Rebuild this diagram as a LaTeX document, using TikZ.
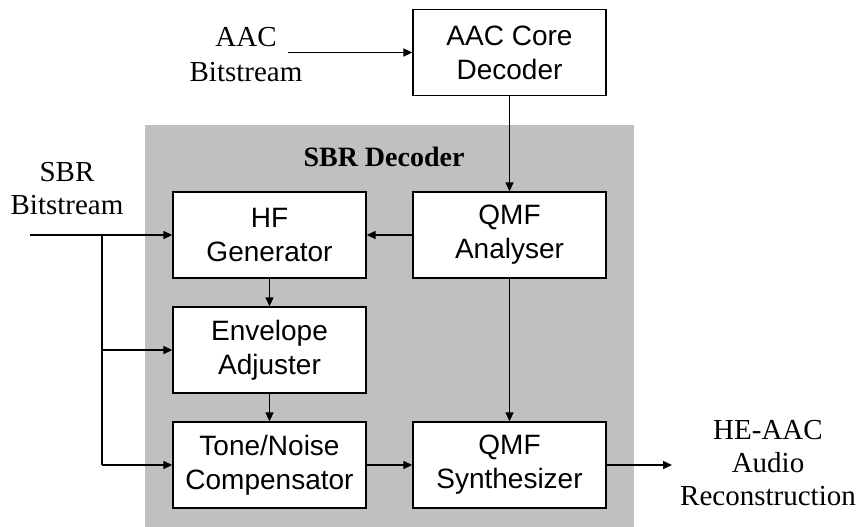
\documentclass[tikz,border=0pt]{standalone}
\usepackage{fontspec}
\setmainfont{Liberation Serif}
\newfontfamily\boxfont{Liberation Sans}
\usetikzlibrary{arrows.meta}
\definecolor{panelgray}{RGB}{192,192,192}
\tikzset{
  blk/.style={draw=black, fill=white, line width=1.3pt, minimum width=193pt,
    minimum height=86pt, inner sep=0pt, align=center,
    font=\boxfont\fontsize{28}{34}\selectfont},
  lbl/.style={align=center, inner sep=0pt, font=\fontsize{29}{33}\selectfont},
  flow/.style={line width=1.5pt, -{Triangle[length=9pt,width=8pt]}},
  wire/.style={line width=1.5pt}
}
\begin{document}
\begin{tikzpicture}[x=1pt, y=-1pt]
\useasboundingbox (0,0) rectangle (859,527);
% shaded SBR decoder panel
\fill[panelgray] (145,125) rectangle (634,526.5);
\node[font=\bfseries\fontsize{28}{33}\selectfont, inner sep=0pt] (title) at (384,157) {SBR Decoder};

% processing blocks
\node[blk] (core) at (509.5,52.5) {AAC Core\\Decoder};
\node[blk] (hf)   at (269.5,235) {HF\\Generator};
\node[blk] (qa)   at (509.5,235) {QMF\\Analyser};
\node[blk] (env)  at (269.5,350) {Envelope\\Adjuster};
\node[blk] (tone) at (269.5,465) {Tone/Noise\\Compensator};
\node[blk] (qs)   at (509.5,465) {QMF\\Synthesizer};

% external labels
\node[lbl, font=\fontsize{29}{35}\selectfont] (aacin) at (246,54.5) {AAC\\Bitstream};
\node[lbl] (sbrin) at (67,189) {SBR\\Bitstream};
\node[lbl] (out) at (768,463) {HE-AAC\\Audio\\Reconstruction};

% signal paths
\coordinate (aacsrc) at (288,52.5);
\coordinate (sbrsrc) at (30,235);
\coordinate (split) at (102,235);
\coordinate (sink) at (672,465);

\draw[flow] (aacsrc) -- (core.west);
\draw[flow] (core.south) -- (qa.north);
\draw[flow] (qa.west) -- (hf.east);
\draw[flow] (qa.south) -- (qs.north);
\draw[flow] (hf.south) -- (env.north);
\draw[flow] (env.south) -- (tone.north);
\draw[flow] (tone.east) -- (qs.west);
\draw[flow] (qs.east) -- (sink);

\draw[flow] (sbrsrc) -- (hf.west);
\draw[wire] (split) -- (split |- tone.west);
\draw[flow] (split |- env.west) -- (env.west);
\draw[flow] (split |- tone.west) -- (tone.west);
\end{tikzpicture}
\end{document}
